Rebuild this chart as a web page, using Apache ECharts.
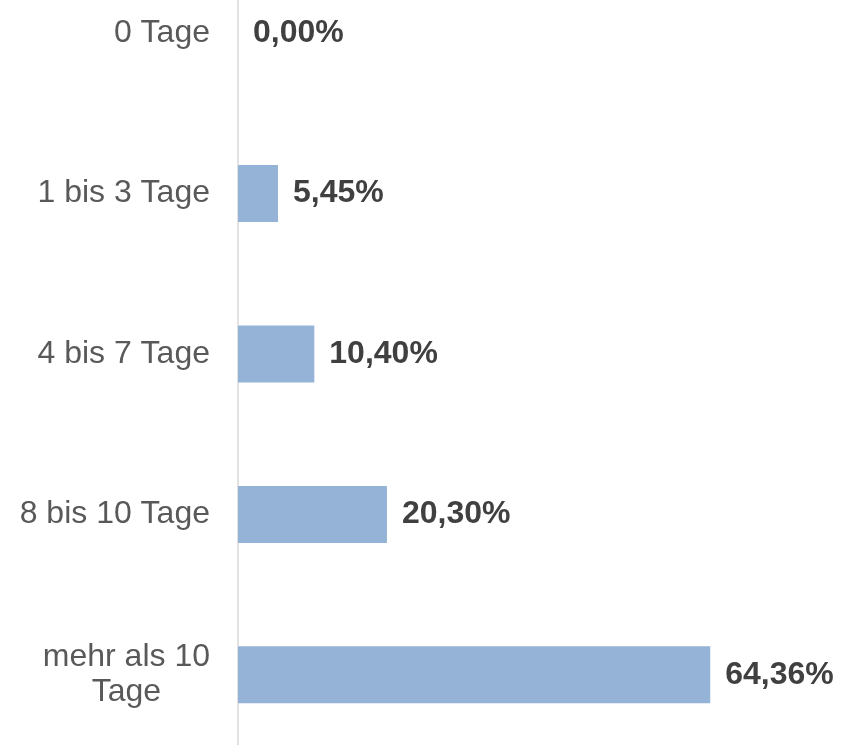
<!DOCTYPE html>
<html>
<head>
<meta charset="utf-8">
<style>
  html, body { margin: 0; padding: 0; background: #fff; }
  #chart { width: 853px; height: 745px; }
</style>
<script src="https://cdn.jsdelivr.net/npm/echarts@6/dist/echarts.min.js"></script>
</head>
<body>
<div id="chart"></div>
<script>
// Kategorien von oben nach unten
var categories = ["0 Tage", "1 bis 3 Tage", "4 bis 7 Tage", "8 bis 10 Tage", "mehr als 10\nTage"];
// Anteile in %
var shares = [0.00, 5.45, 10.40, 20.30, 64.36];

var font = 'Arial, "Liberation Sans", sans-serif';
var myChart = echarts.init(document.getElementById("chart"));

var option = {
  animation: false,
  backgroundColor: "#ffffff",
  grid: {
    left: 238,
    right: 28,
    top: -47,
    height: 802,
    containLabel: false,
    outerBoundsMode: "none"
  },
  xAxis: {
    type: "value",
    min: 0,
    max: 80,
    show: false,
    splitLine: { show: false }
  },
  yAxis: {
    type: "category",
    data: categories,
    inverse: true,
    axisTick: { show: false },
    axisLine: {
      show: true,
      lineStyle: { color: "#d9d9d9", width: 1.5 }
    },
    axisLabel: {
      margin: 28,
      fontFamily: font,
      fontSize: 32,
      color: "#595959",
      lineHeight: 35,
      formatter: function (v) {
        return v.split("\n").map(function (s) { return "{c|" + s + "}"; }).join("\n");
      },
      rich: {
        c: {
          align: "center",
          fontFamily: font,
          fontSize: 32,
          color: "#595959",
          lineHeight: 35
        }
      }
    }
  },
  series: [
    {
      type: "bar",
      data: shares,
      barWidth: 57,
      itemStyle: { color: "#95b3d7" },
      label: {
        show: true,
        position: "right",
        distance: 15,
        fontFamily: font,
        fontSize: 32,
        fontWeight: "bold",
        color: "#404040",
        formatter: function (p) {
          return p.value.toFixed(2).replace(".", ",") + "%";
        }
      }
    }
  ]
};

myChart.setOption(option);
</script>
</body>
</html>
